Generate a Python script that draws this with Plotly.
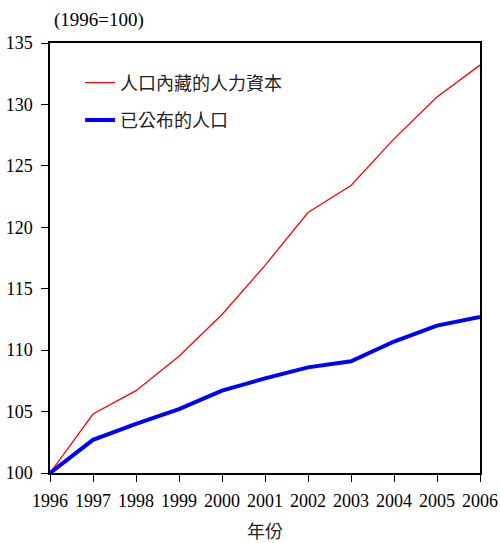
import plotly.graph_objects as go

years = [1996, 1997, 1998, 1999, 2000, 2001, 2002, 2003, 2004, 2005, 2006]
human_capital = [100, 104.8, 106.7, 109.5, 112.9, 116.9, 121.2, 123.4, 127.2, 130.6, 133.2]
published_pop = [100, 102.7, 104.0, 105.2, 106.7, 107.7, 108.6, 109.1, 110.7, 112.0, 112.7]
names = ["人口內藏的人力資本", "已公布的人口"]

font_serif = "Liberation Serif, Times New Roman, serif"
font_cjk = "Noto Sans CJK TC, sans-serif"

fig = go.Figure()
fig.add_trace(go.Scatter(x=years, y=human_capital, mode="lines", name=names[0],
                         legendgroup="a", line=dict(color="#ff0000", width=1.3)))
fig.add_trace(go.Scatter(x=years, y=published_pop, mode="lines", name=names[1],
                         legendgroup="b", line=dict(color="#0000ff", width=4)))

fig.update_layout(
    width=500, height=543,
    margin=dict(l=50, r=20, t=43, b=70),
    plot_bgcolor="white", paper_bgcolor="white",
    showlegend=True,
    legend=dict(x=0.07, y=0.95, xanchor="left", yanchor="top",
                font=dict(family=font_cjk, size=18, color="#222"),
                bgcolor="rgba(0,0,0,0)", tracegroupgap=11, traceorder="grouped",
                itemwidth=30),
    xaxis=dict(range=[1996, 2006], tickvals=years, ticktext=[str(y) for y in years],
               automargin=False,
               showgrid=False, zeroline=False, showline=True, linecolor="black",
               linewidth=1.5, mirror=True, ticks="outside", ticklen=7, tickcolor="black",
               ticklabelstandoff=4,
               tickfont=dict(family=font_serif, size=18, color="black"),
               title=dict(text="年份", font=dict(family=font_cjk, size=18, color="#222"), standoff=24)),
    yaxis=dict(range=[100, 135], tickvals=[100, 105, 110, 115, 120, 125, 130, 135],
               automargin=False,
               showgrid=False, zeroline=False, showline=True, linecolor="black",
               linewidth=1.5, mirror=True, ticks="outside", ticklen=7, tickcolor="black",
               ticklabelstandoff=5,
               tickfont=dict(family=font_serif, size=18, color="black")),
    annotations=[dict(text="(1996=100)", xref="paper", yref="paper", x=0.005, y=1.0,
                      xanchor="left", yanchor="bottom", yshift=10, showarrow=False,
                      font=dict(family=font_serif, size=19, color="black"))],
)

fig.write_html("out.html", config={"displayModeBar": False},
               post_script="document.body.style.margin='0';")
